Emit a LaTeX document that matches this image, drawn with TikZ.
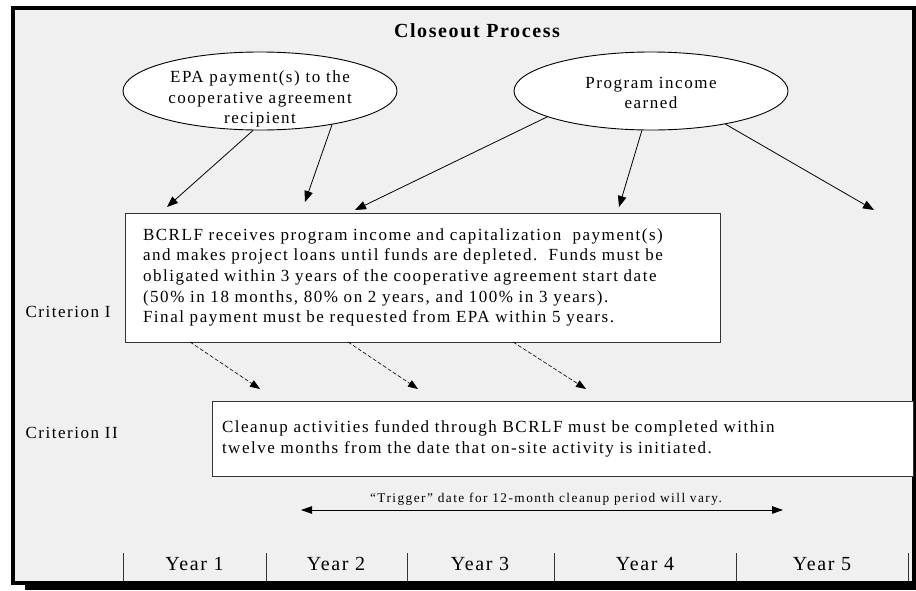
\documentclass[tikz,border=0pt]{standalone}
\usepackage{fontspec}
\setmainfont{Liberation Serif}
\usetikzlibrary{positioning,shapes.geometric,arrows.meta}
\definecolor{panelgray}{HTML}{F0F0F0}

\tikzset{
  bodytext/.style={font=\fontsize{17}{20.7}\selectfont\addfontfeature{LetterSpace=9}},
  titletext/.style={font=\fontsize{20}{23}\selectfont\bfseries\addfontfeature{LetterSpace=8}},
  smalltext/.style={font=\fontsize{13.3}{15}\selectfont\addfontfeature{LetterSpace=11}},
  yeartext/.style={font=\fontsize{20}{23}\selectfont\addfontfeature{LetterSpace=8}},
  bubble/.style={ellipse, draw=black, fill=white, line width=0.9pt,
    minimum width=274pt, minimum height=78pt, inner sep=0pt},
  textbox/.style={rectangle, draw=black!80, fill=white, line width=0.9pt,
    align=left, bodytext},
  feed/.style={-{Triangle[length=11pt,width=8.5pt]}, line width=0.8pt},
  spill/.style={-{Triangle[length=10pt,width=7.5pt]}, line width=0.6pt,
    dash pattern=on 4pt off 2pt},
  span/.style={{Triangle[length=11pt,width=7.5pt]}-{Triangle[length=11pt,width=7.5pt]}, line width=0.8pt}
}

\begin{document}
\begin{tikzpicture}[x=1pt,y=-1pt]
  \useasboundingbox (0,0) rectangle (916,590);
  % frame with shadow
  \fill[black] (11,6) rectangle (916,585);
  \fill[black] (25,585) rectangle (916,590);
  \fill[panelgray] (15,10) rectangle (912,581);

  \node[titletext] (title) at (477,31) {Closeout Process};

  % sources
  \node[bubble] (epa) at (260,91) {};
  \node[bodytext, align=center, yshift=-8pt] (epatext) at (epa) {EPA payment(s) to the\\cooperative agreement\\recipient};
  \node[bubble] (income) at (651,91) {};
  \node[bodytext, align=center, yshift=-2pt] (incometext) at (income) {Program income\\earned};

  % criterion boxes
  \node[textbox, text width=559pt, inner xsep=18pt, minimum height=129pt] (fund) at (422.5,277.5)
    {BCRLF receives program income and capitalization\ \ payment(s)\\
     and makes project loans until funds are depleted.\ \ Funds must be\\
     obligated within 3 years of the cooperative agreement start date\\
     (50\% in 18 months, 80\% on 2 years, and 100\% in 3 years).\\
     Final payment must be requested from EPA within 5 years.};
  \node[textbox, text width=681pt, inner xsep=10pt, minimum height=75pt] (cleanup) at (562.5,438.5)
    {Cleanup activities funded through BCRLF must be completed within\\
     twelve months from the date that on-site activity is initiated.};

  \node[bodytext, anchor=west] (critA) at (22,312) {Criterion I};
  \node[bodytext, anchor=west] (critB) at (22,433) {Criterion II};

  % arrow ends
  \coordinate (e1) at (167,207);
  \coordinate (e2) at (305,202);
  \coordinate (e3) at (355,210);
  \coordinate (e4) at (619,207);
  \coordinate (e5) at (874,210);
  \draw[feed] (epa.260) -- (e1);
  \draw[feed] (epa.335) -- (e2);
  \draw[feed] (income.194) -- (e3);
  \draw[feed] (income.257) -- (e4);
  \draw[feed] (income.336) -- (e5);

  % dashed hand-over
  \coordinate (s1) at (190,342);
  \coordinate (s2) at (348,342);
  \coordinate (s3) at (513,342);
  \coordinate (t1) at (260,389);
  \coordinate (t2) at (418,389);
  \coordinate (t3) at (586,389);
  \foreach \i in {1,2,3}
    \draw[spill] (s\i) -- (t\i);

  % trigger span
  \coordinate (trigL) at (301,510);
  \coordinate (trigR) at (783,510);
  \draw[span] (trigL) -- (trigR);
  \node[smalltext] (trig) at (546,499) {``Trigger'' date for 12-month cleanup period will vary.};

  % years
  \foreach \x in {123,266,407,554,736,908}
    \draw[black!80, line width=0.9pt] (\x,553) -- (\x,581);
  \foreach \x/\n in {194.5/1,336/2,480/3,645/4,822/5}
    \node[yeartext] (year\n) at (\x,564) {Year \n};
\end{tikzpicture}
\end{document}
